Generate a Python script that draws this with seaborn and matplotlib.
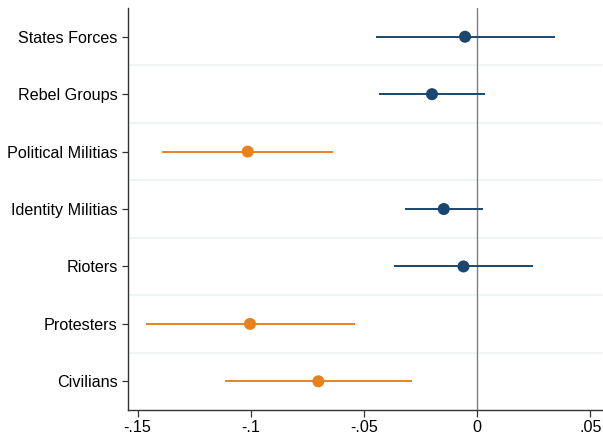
import pandas as pd
import matplotlib.pyplot as plt
import seaborn as sns

# Coefficients and 95% confidence intervals
groups = ['States Forces', 'Rebel Groups', 'Political Militias', 'Identity Militias',
          'Rioters', 'Protesters', 'Civilians']
coef = [-0.0053, -0.0199, -0.1013, -0.0147, -0.0060, -0.1003, -0.0701]
ci_low = [-0.0447, -0.0434, -0.1392, -0.0318, -0.0365, -0.1464, -0.1112]
ci_high = [0.0345, 0.0037, -0.0636, 0.0025, 0.0249, -0.0540, -0.0286]

df = pd.DataFrame({'group': groups, 'coef': coef, 'lo': ci_low, 'hi': ci_high})
df['sig'] = df['hi'] < 0

navy = '#1a476f'
orange = '#e8821e'
palette = {False: navy, True: orange}

sns.set_style('white')
plt.rcParams['font.family'] = ['Liberation Sans', 'DejaVu Sans']

fig = plt.figure(figsize=(6.03, 4.36), dpi=100)
ax = fig.add_axes([0.2123, 0.0596, 0.786, 0.922])

# light separators between rows
for y in range(len(groups) - 1):
    ax.axhline(y + 0.5, color='#eef2f4', lw=1.2, zorder=0)

ax.axvline(0, color='#7f7f7f', lw=1.0, zorder=1)

ax.hlines(df.index, df['lo'], df['hi'],
          colors=[palette[s] for s in df['sig']], lw=1.4, zorder=2)
sns.scatterplot(data=df, x='coef', y='group', hue='sig', palette=palette,
                s=75, edgecolor='none', legend=False, zorder=3, ax=ax)

ax.set_xlim(-0.1542, 0.0552)
ax.set_ylim(6.5, -0.5)
ax.set_xticks([-0.15, -0.1, -0.05, 0, 0.05])
ax.set_xticklabels(['-.15', '-.1', '-.05', '0', '.05'])
ax.set_xlabel('')
ax.set_ylabel('')

for side in ['top', 'right']:
    ax.spines[side].set_visible(False)
for side in ['left', 'bottom']:
    ax.spines[side].set_color('#333333')
    ax.spines[side].set_linewidth(1.0)

ax.tick_params(axis='both', which='major', labelsize=11.6, colors='#333333',
               labelcolor='black', length=4, width=0.9, direction='out',
               left=True, bottom=True)
ax.tick_params(axis='x', pad=2.5, length=5)

fig.savefig('out.png', dpi=100)
